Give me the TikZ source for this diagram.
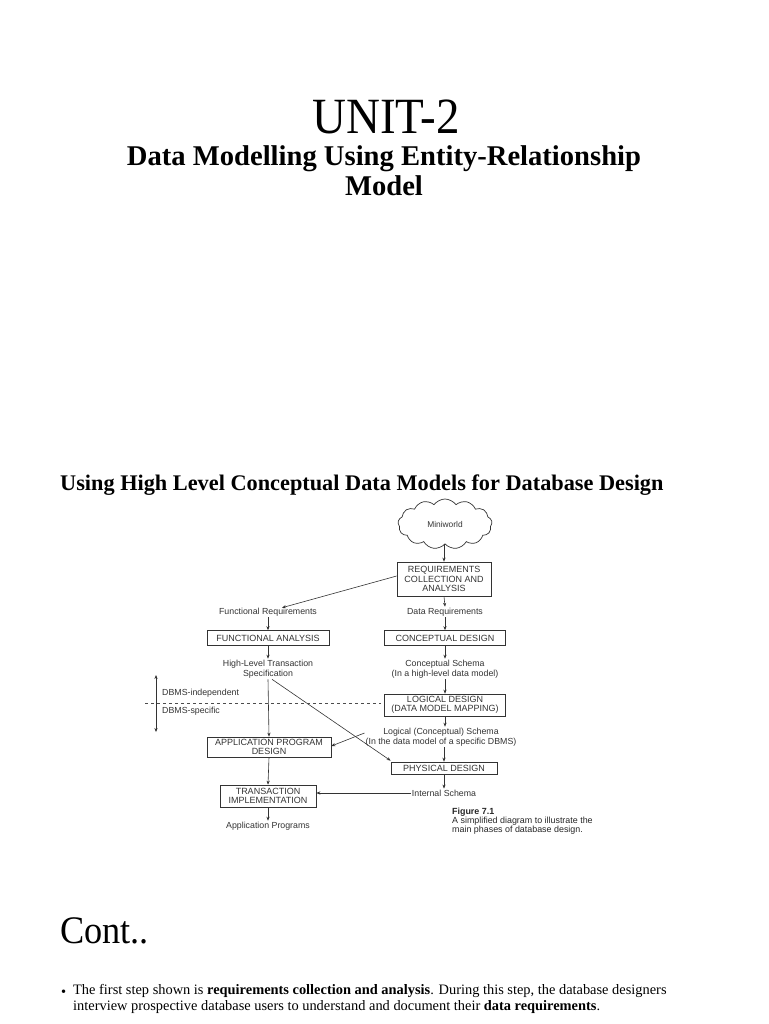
\documentclass[tikz,border=0pt]{standalone}
\usepackage{fontspec}
\setmainfont{Liberation Serif}
\newfontfamily\diagfont{Liberation Sans}
\usetikzlibrary{arrows.meta,shapes.symbols}
\tikzset{
  >={Stealth[length=4pt,width=3.2pt]},
  phase/.style={draw=black!80, line width=0.7pt, inner sep=0pt, align=center,
    font=\diagfont\fontsize{9}{9.2}\selectfont, text=black!80},
  lbl/.style={inner sep=1pt, align=center,
    font=\diagfont\fontsize{8.8}{10}\selectfont, text=black!80},
  flow/.style={->, draw=black!80, line width=0.6pt}
}
\begin{document}
\begin{tikzpicture}[x=1pt,y=-1pt]
\useasboundingbox (0,0) rectangle (768,1024);

% Titles
\node (unit) at (386,117) {\scalebox{1}[1.08]{\fontsize{47}{50}\selectfont UNIT-2}};
\node[align=center, font=\bfseries\fontsize{28.6}{30}\selectfont] (ttl) at (384,171)
  {Data Modelling Using Entity-Relationship\\Model};
\node[anchor=base west, font=\bfseries\fontsize{22.3}{24}\selectfont, inner sep=0pt] (sec) at (60,490)
  {Using High Level Conceptual Data Models for Database Design};

% Right column
\node[cloud, cloud puffs=13, cloud puff arc=110, aspect=2, draw=black!80, line width=0.7pt,
  minimum width=94, minimum height=50, inner sep=0pt, font=\diagfont\fontsize{8.4}{9}\selectfont,
  text=black!80] (world) at (445,524) {Miniworld};
\node[phase, minimum width=94, minimum height=34] (req) at (444,579)
  {REQUIREMENTS\\COLLECTION AND\\ANALYSIS};
\node[lbl] (datareq) at (445,612) {Data Requirements};
\node[phase, minimum width=121, minimum height=15] (concdes) at (445,638) {CONCEPTUAL DESIGN};
\node[lbl] (concsch) at (445,669) {Conceptual Schema\\(In a high-level data model)};
\node[phase, minimum width=121, minimum height=22] (logdes) at (445,705)
  {LOGICAL DESIGN\\(DATA MODEL MAPPING)};
\node[lbl] (logsch) at (441,737) {Logical (Conceptual) Schema\\(In the data model of a specific DBMS)};
\node[phase, minimum width=106, minimum height=12] (physdes) at (444,768) {PHYSICAL DESIGN};
\node[lbl] (intsch) at (444,793) {Internal Schema};

% Left column
\node[lbl] (funreq) at (268,612) {Functional Requirements};
\node[phase, minimum width=122, minimum height=15] (funana) at (268,638) {FUNCTIONAL ANALYSIS};
\node[lbl] (hlts) at (268,669) {High-Level Transaction\\Specification};
\node[phase, minimum width=124, minimum height=20] (appdes) at (269,747)
  {APPLICATION PROGRAM\\DESIGN};
\node[phase, minimum width=96, minimum height=22] (transimp) at (268,796)
  {TRANSACTION\\IMPLEMENTATION};
\node[lbl] (appprog) at (268,826) {Application Programs};

% Connectors
\draw[flow] (req.north |- world.south) -- (req.north);
\draw[flow] ([yshift=3]req.west) -- ([xshift=14,yshift=-1]funreq.north);
\draw[flow] (req.south) -- (datareq.north);
\draw[flow] (datareq.south) -- (concdes.north);
\draw[flow] (funreq.south) -- (funana.north);
\draw[flow] (funana.south) -- (hlts.north);
\draw[flow] (concdes.south) -- (concsch.north);
\draw[flow] (concsch.south) -- (logdes.north);
\draw[flow] (logdes.south) -- (logdes.south |- logsch.north);
\draw[flow] (hlts.south) -- (appdes.north);
\draw[flow] ([xshift=4]hlts.south) -- ([yshift=1]physdes.north west);
\draw[flow] ([yshift=4]logsch.west) -- ([yshift=1]appdes.east);
\draw[flow] (physdes.north |- logsch.south) -- (physdes.north);
\draw[flow] (physdes.south) -- (intsch.north);
\draw[flow] (intsch.west) -- (intsch.west -| transimp.east);
\draw[flow] (appdes.south) -- (transimp.north);
\draw[flow] (transimp.south) -- (appprog.north);

% DBMS split
\draw[black!70, dashed, line width=0.5pt] (145,703) -- (381,703);
\draw[<->, black!80, line width=0.6pt] (156,675) -- (156,732);
\node[lbl, anchor=west] (indep) at (161,693) {DBMS-independent};
\node[lbl, anchor=west] (spec) at (161,711) {DBMS-specific};

% Caption
\node[anchor=north west, inner sep=0pt, align=left, text=black!85,
  font=\diagfont\fontsize{8.9}{8.9}\selectfont] (cap) at (452,808)
  {\textbf{Figure 7.1}\\A simplified diagram to illustrate the\\main phases of database design.};

% Second slide
\node[anchor=base west, inner sep=0pt] (cont) at (60,943)
  {\scalebox{0.93}[1]{\fontsize{39}{42}\selectfont Cont..}};
\node[anchor=base west, inner sep=0pt, font=\fontsize{14.4}{16}\selectfont] (dot) at (61,996) {\textbullet};
\node[anchor=north west, inner sep=0pt, align=left, font=\fontsize{14.4}{16}\selectfont] (para) at (73,984)
  {The first step shown is \textbf{requirements collection and analysis}. During this step, the database designers\\
   interview prospective database users to understand and document their \textbf{data requirements}.};
\end{tikzpicture}
\end{document}
